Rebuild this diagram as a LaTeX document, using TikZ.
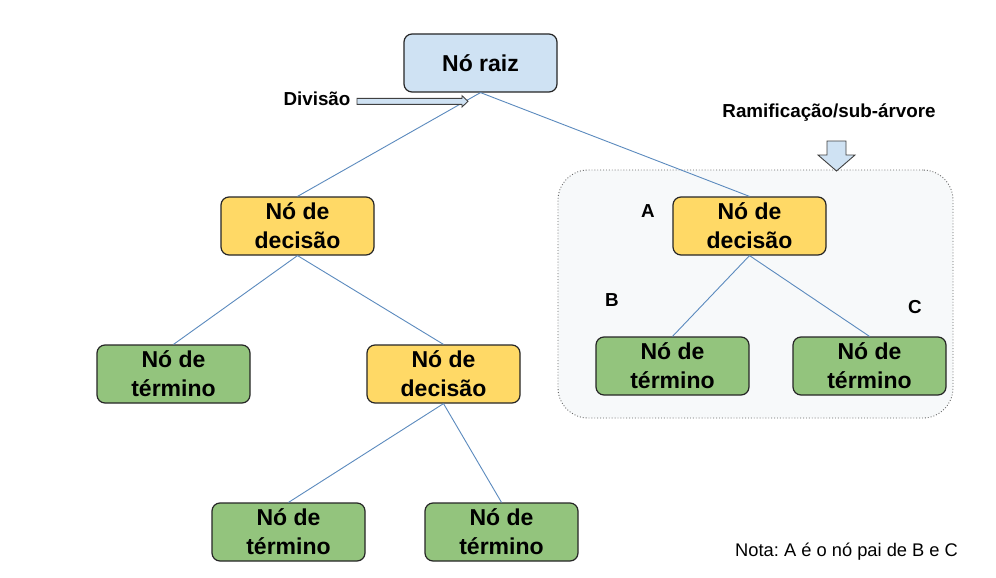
\documentclass[tikz,border=0pt]{standalone}
\usepackage{fontspec}
\setmainfont{Liberation Sans}
\usetikzlibrary{positioning}
\definecolor{rootblue}{HTML}{CFE2F3}
\definecolor{decyellow}{HTML}{FFD966}
\definecolor{leafgreen}{HTML}{93C47D}
\definecolor{edgeblue}{HTML}{5B8ABE}
\definecolor{subgray}{HTML}{F7F9FA}
\tikzset{box/.style={rectangle,rounded corners=8pt,draw=black!85,line width=1.2pt,minimum width=153pt,minimum height=58pt,inner sep=2pt,align=center,font=\fontsize{23}{29}\selectfont\bfseries}}
\tikzset{root/.style={box,fill=rootblue}}
\tikzset{dec/.style={box,fill=decyellow}}
\tikzset{leaf/.style={box,fill=leafgreen}}
\tikzset{lbl/.style={font=\fontsize{18.8}{21}\selectfont\bfseries,inner sep=0pt}}
\tikzset{edge/.style={draw=edgeblue,line width=0.9pt}}
\tikzset{blockarrow/.style={draw=black!75,fill=rootblue,line width=0.9pt,line join=miter}}
\frenchspacing
\begin{document}
\begin{tikzpicture}[x=1pt,y=-1pt]
\useasboundingbox[fill=white] (0,0) rectangle (996,578);

% sub-tree frame
\node[rectangle,rounded corners=30pt,draw=black!60,dotted,line width=0.9pt,fill=subgray,minimum width=395pt,minimum height=248pt] (sub) at (755.5,294) {};

\node[root] (R) at (480.5,63) {Nó raiz};
\node[dec] (D1) at (297.5,226) {Nó de\\decisão};
\node[leaf] (T1) at (173.5,374) {Nó de\\término};
\node[dec] (D2) at (443.5,374) {Nó de\\decisão};
\node[leaf] (T2) at (288.5,532) {Nó de\\término};
\node[leaf] (T3) at (501.5,532) {Nó de\\término};

\draw[edge] (R.south) -- (D1.north);
\draw[edge] (D1.south) -- (T1.north);
\draw[edge] (D1.south) -- (D2.north);
\draw[edge] (D2.south) -- (T2.north);
\draw[edge] (D2.south) -- (T3.north);

% next panel

\node[dec] (A) at (749.5,226) {Nó de\\decisão};
\node[leaf] (B) at (672.5,366) {Nó de\\término};
\node[leaf] (C) at (869.5,366) {Nó de\\término};

\draw[edge] (R.south) -- (A.north);
\draw[edge] (A.south) -- (B.north);
\draw[edge] (A.south) -- (C.north);

\node[lbl] (Alab) at (648,211) {A};
\node[lbl] (Blab) at (612,300) {B};
\node[lbl] (Clab) at (915,307) {C};

\node[lbl] (div) at (317,99) {Divisão};
\draw[blockarrow] (357,98.3) -- (462,98.3) -- (462,95.7) -- (468,101.3) -- (462,107) -- (462,104.3) -- (357,104.3) -- cycle;

\node[lbl] (ram) at (829,113) {Ramificação/sub-árvore};
\draw[blockarrow] (827,141) -- (846,141) -- (846,155) -- (855,155) -- (836.5,171) -- (818,155) -- (827,155) -- cycle;

\node[font=\fontsize{18.3}{21}\selectfont,inner sep=0pt,anchor=west] (nota) at (735,552) {Nota: A é o nó pai de B e C};

\end{tikzpicture}
\end{document}
